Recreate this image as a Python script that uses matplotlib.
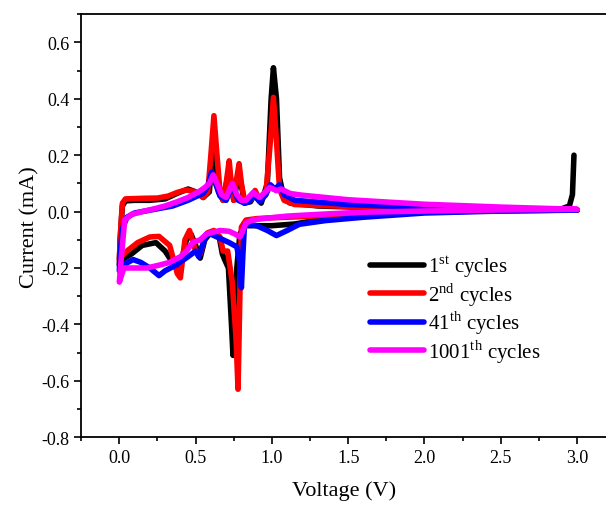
import matplotlib
matplotlib.use("Agg")
import matplotlib.pyplot as plt
from matplotlib.ticker import MultipleLocator

plt.rcParams["font.family"] = ["Liberation Serif", "DejaVu Serif"]
plt.rcParams["mathtext.fontset"] = "custom"
plt.rcParams["mathtext.rm"] = "Liberation Serif"
plt.rcParams["axes.unicode_minus"] = False

# cycle 1 : cathodic scan 3.0 -> 0 V, then anodic scan 0 -> 3.0 V
v_c1 = [3.0, 2.5, 2.0, 1.7, 1.5, 1.3, 1.15, 1.0, 0.9, 0.82, 0.79, 0.77, 0.755, 0.745, 0.735, 0.715,
        0.69, 0.675, 0.655, 0.62, 0.59, 0.56, 0.53, 0.5, 0.47, 0.44, 0.4, 0.36, 0.3, 0.24, 0.15, 0.08,
        0.02, 0.0,
        0.005, 0.02, 0.04, 0.1, 0.2, 0.3, 0.38, 0.45, 0.5, 0.55, 0.59, 0.62, 0.65, 0.68, 0.72, 0.75,
        0.785, 0.82, 0.86, 0.89, 0.93, 0.97, 0.995, 1.01, 1.03, 1.05, 1.08, 1.12, 1.3, 1.6, 2.0, 2.5,
        2.9, 2.95, 2.97, 2.98]
i_c1 = [0.005, 0.003, -0.002, -0.01, -0.017, -0.03, -0.044, -0.05, -0.05, -0.05, -0.08, -0.2, -0.4,
        -0.51, -0.4, -0.2, -0.17, -0.15, -0.09, -0.075, -0.08, -0.1, -0.165, -0.12, -0.08, -0.1, -0.19,
        -0.19, -0.14, -0.11, -0.12, -0.15, -0.17, -0.19,
        -0.1, 0.02, 0.038, 0.04, 0.04, 0.045, 0.065, 0.08, 0.07, 0.05, 0.07, 0.28, 0.07, 0.04, 0.15,
        0.04, 0.14, 0.03, 0.035, 0.065, 0.03, 0.1, 0.4, 0.51, 0.4, 0.12, 0.045, 0.03, 0.02, 0.015,
        0.012, 0.01, 0.01, 0.02, 0.06, 0.2]

# cycle 2
v_c2 = [3.0, 2.5, 2.0, 1.5, 1.2, 1.0, 0.9, 0.83, 0.8, 0.79, 0.778, 0.765, 0.74, 0.71, 0.68, 0.66,
        0.62, 0.58, 0.56, 0.53, 0.5, 0.46, 0.43, 0.4, 0.38, 0.33, 0.26, 0.2, 0.12, 0.05, 0.01, 0.0,
        0.01, 0.02, 0.04, 0.15, 0.25, 0.32, 0.38, 0.44, 0.5, 0.55, 0.58, 0.6, 0.62, 0.64, 0.66, 0.68,
        0.7, 0.72, 0.735, 0.75, 0.77, 0.785, 0.8, 0.82, 0.86, 0.89, 0.92, 0.96, 0.99, 1.01, 1.03, 1.05,
        1.08, 1.15, 1.5, 2.0, 2.5, 3.0]
i_c2 = [0.005, 0.004, 0.0, -0.008, -0.018, -0.022, -0.025, -0.03, -0.055, -0.3, -0.63, -0.45, -0.25,
        -0.14, -0.14, -0.09, -0.067, -0.075, -0.09, -0.15, -0.14, -0.067, -0.1, -0.235, -0.22, -0.12,
        -0.088, -0.09, -0.11, -0.14, -0.16, -0.17,
        -0.05, 0.03, 0.045, 0.047, 0.048, 0.055, 0.068, 0.077, 0.07, 0.05, 0.07, 0.2, 0.34, 0.2, 0.07,
        0.04, 0.1, 0.18, 0.09, 0.04, 0.12, 0.17, 0.1, 0.04, 0.04, 0.075, 0.04, 0.06, 0.25, 0.405, 0.25,
        0.08, 0.04, 0.025, 0.018, 0.012, 0.008, 0.005]

# cycle 41
v_c41 = [3.0, 2.5, 2.0, 1.6, 1.35, 1.18, 1.1, 1.03, 0.97, 0.9, 0.85, 0.82, 0.81, 0.8, 0.79, 0.77,
         0.72, 0.68, 0.64, 0.6, 0.57, 0.52, 0.5, 0.45, 0.37, 0.3, 0.26, 0.2, 0.14, 0.09, 0.04, 0.0,
         0.005, 0.02, 0.05, 0.1, 0.2, 0.3, 0.35, 0.45, 0.55, 0.58, 0.605, 0.63, 0.66, 0.7, 0.74, 0.78,
         0.82, 0.85, 0.88, 0.92, 0.96, 0.99, 1.02, 1.05, 1.08, 1.15, 1.5, 2.0, 2.5, 3.0]
i_c41 = [0.006, 0.002, -0.005, -0.02, -0.032, -0.045, -0.067, -0.085, -0.067, -0.05, -0.045, -0.05,
         -0.15, -0.27, -0.18, -0.125, -0.11, -0.1, -0.09, -0.08, -0.08, -0.16, -0.14, -0.16, -0.19,
         -0.21, -0.227, -0.2, -0.18, -0.17, -0.185, -0.21,
         -0.15, -0.06, -0.02, -0.005, 0.005, 0.015, 0.02, 0.04, 0.065, 0.09, 0.14, 0.1, 0.055, 0.04,
         0.09, 0.04, 0.03, 0.035, 0.06, 0.035, 0.06, 0.095, 0.08, 0.095, 0.06, 0.04, 0.025, 0.015,
         0.01, 0.006]

# cycle 1001
v_c1001 = [3.0, 2.5, 2.0, 1.6, 1.3, 1.1, 0.92, 0.875, 0.83, 0.8, 0.79, 0.76, 0.72, 0.66, 0.6, 0.57,
           0.53, 0.48, 0.44, 0.4, 0.33, 0.26, 0.18, 0.1, 0.03, 0.0,
           0.01, 0.035, 0.08, 0.15, 0.23, 0.3, 0.38, 0.45, 0.52, 0.56, 0.59, 0.615, 0.64, 0.67, 0.7,
           0.74, 0.77, 0.8, 0.83, 0.877, 0.92, 0.986, 1.03, 1.06, 1.12, 1.2, 1.5, 2.0, 2.5, 3.0]
i_c1001 = [0.008, 0.006, 0.002, -0.002, -0.01, -0.016, -0.026, -0.03, -0.04, -0.08, -0.09, -0.08,
           -0.07, -0.067, -0.075, -0.08, -0.1, -0.11, -0.14, -0.16, -0.18, -0.19, -0.2, -0.2, -0.2,
           -0.25,
           -0.18, -0.03, -0.01, 0.0, 0.01, 0.02, 0.035, 0.05, 0.07, 0.085, 0.1, 0.13, 0.1, 0.06, 0.05,
           0.1, 0.06, 0.04, 0.04, 0.068, 0.05, 0.086, 0.074, 0.08, 0.064, 0.058, 0.042, 0.026, 0.016,
           0.008]

labels = [r"1$^{\mathrm{st}}$ cycles", r"2$^{\mathrm{nd}}$ cycles",
          r"41$^{\mathrm{th}}$ cycles", r"1001$^{\mathrm{th}}$ cycles"]
colors = ["#000000", "#ff0000", "#0000ff", "#ff00ff"]
series = [(v_c1, i_c1), (v_c2, i_c2), (v_c41, i_c41), (v_c1001, i_c1001)]

fig = plt.figure(figsize=(6.06, 5.06), dpi=100)
ax = fig.add_axes([0.134, 0.134, 0.866, 0.836])

for (v, cur), label, color in zip(series, labels, colors):
    ax.plot(v, cur, color=color, lw=4, label=label, solid_joinstyle="round", solid_capstyle="round")

ax.set_xlim(-0.25, 3.19)
ax.set_ylim(-0.8, 0.7)
ax.xaxis.set_minor_locator(MultipleLocator(0.25))
ax.yaxis.set_minor_locator(MultipleLocator(0.1))
ax.set_xticks([0.0, 0.5, 1.0, 1.5, 2.0, 2.5, 3.0])
ax.set_yticks([-0.8, -0.6, -0.4, -0.2, 0.0, 0.2, 0.4, 0.6])
ax.tick_params(which="major", direction="out", length=5, width=1.2, labelsize=13)
ax.tick_params(which="minor", direction="out", length=3, width=1.2)
ax.spines["right"].set_visible(False)
for s in ("left", "bottom", "top"):
    ax.spines[s].set_linewidth(1.3)

ax.set_xlabel("Voltage (V)", fontsize=16, labelpad=10)
ax.set_ylabel("Current (mA)", fontsize=16, labelpad=1)

ax.legend(loc="upper left", bbox_to_anchor=(0.535, 0.455), frameon=False, fontsize=15,
          handlelength=2.6, handletextpad=0.15, labelspacing=0.05, borderaxespad=0)

fig.savefig("out.png", dpi=100)
